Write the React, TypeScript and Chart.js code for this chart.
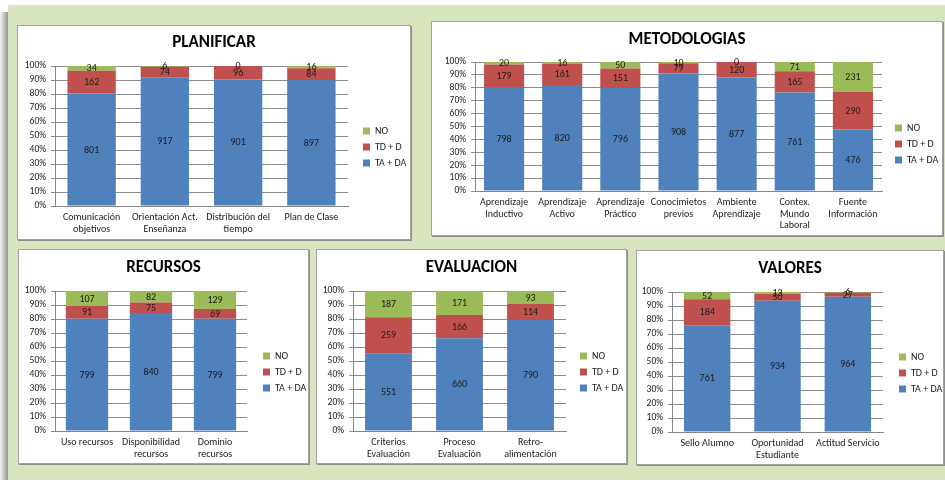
import React, { useEffect, useRef } from 'react';
import { Chart, registerables } from 'chart.js';

Chart.register(...registerables);

const FONT = 'Carlito, Lato, "Liberation Sans", sans-serif';

const SERIES = ['TA + DA', 'TD + D', 'NO'];
const COLORS = ['#4f81bd', '#c0504d', '#9bbb59'];

// ---------- DATA ----------
const planCategories = [['Comunicación', 'objetivos'], ['Orientación Act.', 'Enseñanza'], ['Distribución del', 'tiempo'], 'Plan de Clase'];
const planTA = [801, 917, 901, 897];
const planTD = [162, 74, 96, 84];
const planNO = [34, 6, 0, 16];

const metoCategories = [['Aprendizaje', 'Inductivo'], ['Aprendizaje', 'Activo'], ['Aprendizaje', 'Práctico'], ['Conocimietos', 'previos'], ['Ambiente', 'Aprendizaje'], ['Contex.', 'Mundo', 'Laboral'], ['Fuente', 'Información']];
const metoTA = [798, 820, 796, 908, 877, 761, 476];
const metoTD = [179, 161, 151, 79, 120, 165, 290];
const metoNO = [20, 16, 50, 10, 0, 71, 231];

const recuCategories = ['Uso recursos', ['Disponibilidad', 'recursos'], ['Dominio', 'recursos']];
const recuTA = [799, 840, 799];
const recuTD = [91, 75, 69];
const recuNO = [107, 82, 129];

const evalCategories = [['Criterios', 'Evaluación'], ['Proceso', 'Evaluación'], ['Retro-', 'alimentación']];
const evalTA = [551, 660, 790];
const evalTD = [259, 166, 114];
const evalNO = [187, 171, 93];

const valoCategories = ['Sello Alumno', ['Oportunidad', 'Estudiante'], 'Actitud Servicio'];
const valoTA = [761, 934, 964];
const valoTD = [184, 50, 27];
const valoNO = [52, 13, 6];

const yTickValues = [0, 10, 20, 30, 40, 50, 60, 70, 80, 90, 100];

// ---------- PLUGINS ----------
const valueLabels = {
  id: 'valueLabels',
  afterDatasetsDraw(chart: any) {
    const ctx = chart.ctx;
    ctx.save();
    ctx.font = '10px ' + FONT;
    ctx.fillStyle = '#1a1a1a';
    ctx.textAlign = 'center';
    ctx.textBaseline = 'middle';
    chart.data.datasets.forEach((ds: any, di: number) => {
      const meta = chart.getDatasetMeta(di);
      meta.data.forEach((el: any, i: number) => {
        const { x, y, base } = el.getProps(['x', 'y', 'base'], true);
        ctx.fillText(String(ds.counts[i]), x, (y + base) / 2 + 0.5);
      });
    });
    ctx.restore();
  },
};

const legendPlace = {
  id: 'legendPlace',
  afterLayout(chart: any, _args: any, opts: any) {
    const lg = chart.legend;
    if (!lg || opts == null || opts.x == null) return;
    const pad = lg.options.labels.padding;
    const dx = opts.x - (lg.left + pad);
    lg.left += dx;
    lg.right += dx;
    const n = lg.legendItems.length;
    const itemH = 10;
    const colH = lg.columnSizes[0].height;
    const start = (lg.top + pad + lg.bottom - colH) / 2;
    const wantStart = opts.midY - ((n - 1) / 2) * (itemH + pad) - itemH / 2;
    const dy = wantStart - start;
    lg.top += dy;
    lg.bottom += dy;
  },
};

// extra transparent margin around each canvas so the legend never squeezes the plot
const EXTRA = 40;

type Layout = {
  left: number; top: number; w: number; h: number;
  plotLeft: number; plotRight: number; plotTop: number; plotBottom: number;
  titleY: number; legendX: number; legendMidY: number; barPct: number;
};

type PanelProps = {
  title: string;
  categories: any[];
  ta: number[];
  td: number[];
  no: number[];
  L: Layout;
};

function Panel({ title, categories, ta, td, no, L }: PanelProps) {
  const ref = useRef<HTMLCanvasElement>(null);
  const CW = L.w + 2 * EXTRA;
  useEffect(() => {
    if (!ref.current) return;
    const totals = categories.map((_, i) => ta[i] + td[i] + no[i]);
    const series = [ta, td, no];
    const datasets = series.map((vals, k) => ({
      label: SERIES[k],
      data: vals.map((v, i) => (v / totals[i]) * 100),
      counts: vals,
      backgroundColor: COLORS[k],
      borderWidth: 0,
      barPercentage: L.barPct,
      categoryPercentage: 1,
      xAxisID: 'x',
      yAxisID: 'y',
    }));
    const plotRight = L.plotRight + EXTRA;
    const chart = new Chart(ref.current, {
      type: 'bar',
      data: { labels: categories, datasets } as any,
      plugins: [valueLabels, legendPlace] as any,
      options: {
        responsive: false,
        animation: false,
        devicePixelRatio: 1,
        layout: { padding: 0 },
        events: [],
        plugins: {
          title: {
            display: true,
            text: title,
            color: '#000',
            font: { size: 17, weight: 'bold', family: FONT, lineHeight: 1.2 },
            padding: { top: L.titleY - 10.2, bottom: L.plotTop - L.titleY - 10.2 },
          },
          legend: {
            position: 'right',
            reverse: true,
            labels: {
              boxWidth: 7,
              boxHeight: 7,
              padding: 6,
              color: '#222',
              font: { size: 10, family: FONT },
            },
          },
          tooltip: { enabled: false },
          legendPlace: { x: L.legendX + EXTRA, midY: L.legendMidY },
        } as any,
        scales: {
          x: {
            stacked: true,
            grid: { display: false, drawTicks: false },
            border: { display: true, color: '#868686' },
            ticks: {
              color: '#222',
              font: { size: 10, family: FONT, lineHeight: 1.15 },
              padding: 6,
              maxRotation: 0,
              autoSkip: false,
            },
            afterFit: (s: any) => { s.height = L.h - L.plotBottom; },
          },
          y: {
            stacked: true,
            min: 0,
            max: 100,
            afterBuildTicks: (s: any) => { s.ticks = yTickValues.map((v) => ({ value: v })); },
            ticks: {
              callback: (v: any) => v + '%',
              color: '#222',
              font: { size: 9.5, family: FONT },
              padding: 5,
              autoSkip: false,
            },
            grid: { color: '#8c8c8c', tickLength: 4, drawTicks: true },
            border: { display: true, color: '#868686' },
            afterFit: (s: any) => { s.width = L.plotLeft + EXTRA; },
          },
          gap: {
            type: 'linear',
            position: 'right',
            display: true,
            grid: { display: false, drawTicks: false },
            border: { display: false },
            ticks: { display: false },
            afterFit: (s: any) => {
              s.width = Math.max(0, s.chart.width - s.chart.legend.width - plotRight);
            },
          },
        } as any,
      },
    });
    return () => chart.destroy();
  }, []);
  return (
    <>
      <div
        style={{
          position: 'absolute',
          left: L.left,
          top: L.top,
          width: L.w,
          height: L.h,
          boxSizing: 'border-box',
          background: '#fff',
          border: '1px solid #a3a3a3',
          boxShadow: '1px 1px 0 #8e8e8e',
        }}
      />
      <canvas
        ref={ref}
        width={CW}
        height={L.h}
        style={{ position: 'absolute', left: L.left - EXTRA, top: L.top, width: CW, height: L.h, zIndex: 1 }}
      />
    </>
  );
}

const L1: Layout = { left: 17, top: 25, w: 394, h: 215, plotLeft: 38, plotRight: 331, plotTop: 41, plotBottom: 181, titleY: 18, legendX: 346, legendMidY: 122, barPct: 0.66 };
const L2: Layout = { left: 431, top: 21, w: 512, h: 215, plotLeft: 44, plotRight: 451, plotTop: 41, plotBottom: 170, titleY: 19, legendX: 464, legendMidY: 123, barPct: 0.69 };
const L3: Layout = { left: 18, top: 249, w: 291, h: 215, plotLeft: 37, plotRight: 229, plotTop: 42, plotBottom: 182, titleY: 19, legendX: 245, legendMidY: 123, barPct: 0.66 };
const L4: Layout = { left: 316, top: 249, w: 311, h: 215, plotLeft: 37, plotRight: 250, plotTop: 42, plotBottom: 182, titleY: 19, legendX: 264, legendMidY: 123, barPct: 0.66 };
const L5: Layout = { left: 636, top: 250, w: 308, h: 215, plotLeft: 36, plotRight: 247, plotTop: 42, plotBottom: 182, titleY: 19, legendX: 263, legendMidY: 123, barPct: 0.66 };

export default function App() {
  return (
    <div style={{ position: 'absolute', left: 0, top: 0, width: 945, height: 480, background: '#fff', overflow: 'hidden' }}>
      <div style={{ position: 'absolute', left: 0, top: 12, width: 9, height: 468, background: 'linear-gradient(to right, #f4f4f4, #8a8a8a)' }} />
      <div style={{ position: 'absolute', left: 8, top: 5, width: 937, height: 475, background: '#d7e4bd' }} />
      <Panel title="PLANIFICAR" categories={planCategories} ta={planTA} td={planTD} no={planNO} L={L1} />
      <Panel title="METODOLOGIAS" categories={metoCategories} ta={metoTA} td={metoTD} no={metoNO} L={L2} />
      <Panel title="RECURSOS" categories={recuCategories} ta={recuTA} td={recuTD} no={recuNO} L={L3} />
      <Panel title="EVALUACION" categories={evalCategories} ta={evalTA} td={evalTD} no={evalNO} L={L4} />
      <Panel title="VALORES" categories={valoCategories} ta={valoTA} td={valoTD} no={valoNO} L={L5} />
    </div>
  );
}
